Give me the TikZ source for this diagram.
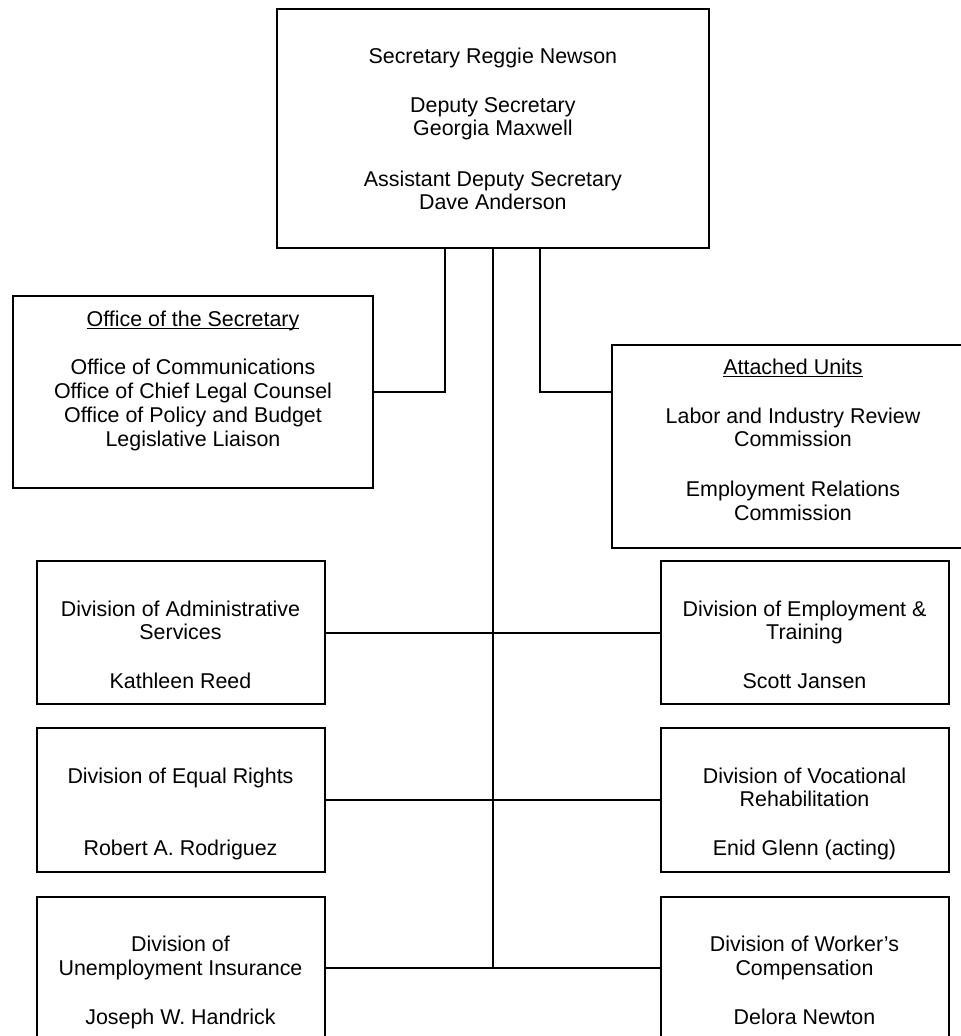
\documentclass[tikz,border=0pt]{standalone}
\usepackage{fontspec}
\setmainfont{Liberation Sans}
\newcommand\myul[1]{\setbox0\hbox{#1}\rlap{\rule[-2.8pt]{\wd0}{1.3pt}}\box0}
\begin{document}
\begin{tikzpicture}[x=1pt,y=-1pt,
  box/.style={draw, line width=2pt, minimum width=288pt, minimum height=143.5pt, inner sep=0pt},
  txt/.style={anchor=north, align=center, inner sep=0pt, font=\fontsize{21.4}{23.4}\selectfont},
  link/.style={line width=1.9pt}]
\useasboundingbox (0,0) rectangle (961,1036);
\clip (0,0) rectangle (961,1036);

% boxes
\node[box, minimum width=432pt, minimum height=239pt] (top) at (492.9,128.5) {};
\node[box, minimum width=360pt, minimum height=192pt] (office) at (193,392.2) {};
\node[box, minimum width=362pt, minimum height=203pt] (attached) at (793,446.5) {};
\node[box] (admin) at (180.5,632.7) {};
\node[box] (employ) at (804.5,632.7) {};
\node[box] (equal) at (180.5,800) {};
\node[box] (voc) at (804.5,800) {};
\node[box] (unemp) at (180.5,968.3) {};
\node[box] (worker) at (804.5,968.3) {};

% texts
\node[txt] (toptxt) at ([yshift=-39.4pt]top.north) {Secretary Reggie Newson\\[26pt]Deputy Secretary\\Georgia Maxwell\\[27pt]Assistant Deputy Secretary\\Dave Anderson};
\node[txt] (officetxt) at ([yshift=-15.7pt]office.north) {\myul{Office of the Secretary}\\[24.3pt]Office of Communications\\[0.6pt]Office of Chief Legal Counsel\\[0.6pt]Office of Policy and Budget\\[0.6pt]Legislative Liaison};
\node[txt] (attachedtxt) at ([yshift=-14.4pt]attached.north) {\myul{Attached Units}\\[25.9pt]Labor and Industry Review\\Commission\\[26.6pt]Employment Relations\\Commission};
\node[txt] (admintxt) at ([yshift=-40.4pt]admin.north) {Division of Administrative\\Services\\[25.7pt]Kathleen Reed};
\node[txt] (employtxt) at ([yshift=-40.4pt]employ.north) {Division of Employment \&\\Training\\[25.7pt]Scott Jansen};
\node[txt] (equaltxt) at ([yshift=-40.4pt]equal.north) {Division of Equal Rights\\[49.1pt]Robert A. Rodriguez};
\node[txt] (voctxt) at ([yshift=-40.4pt]voc.north) {Division of Vocational\\Rehabilitation\\[25.7pt]Enid Glenn (acting)};
\node[txt] (unemptxt) at ([yshift=-40.4pt]unemp.north) {Division of\\Unemployment Insurance\\[25.7pt]Joseph W. Handrick};
\node[txt] (workertxt) at ([yshift=-40.4pt]worker.north) {Division of Worker’s\\Compensation\\[25.7pt]Delora Newton};

% connectors
\coordinate (jL) at (445,392.2);
\coordinate (jR) at (540,391.7);
\draw[link] (jL |- top.south) |- (office.east);
\draw[link] (jR |- top.south) -- (jR) -- (attached.west |- jR);
\draw[link] (top.south) -- (top.south |- unemp.east);
\draw[link] (admin.east) -- (employ.west);
\draw[link] (equal.east) -- (voc.west);
\draw[link] (unemp.east) -- (worker.west);
\end{tikzpicture}
\end{document}
